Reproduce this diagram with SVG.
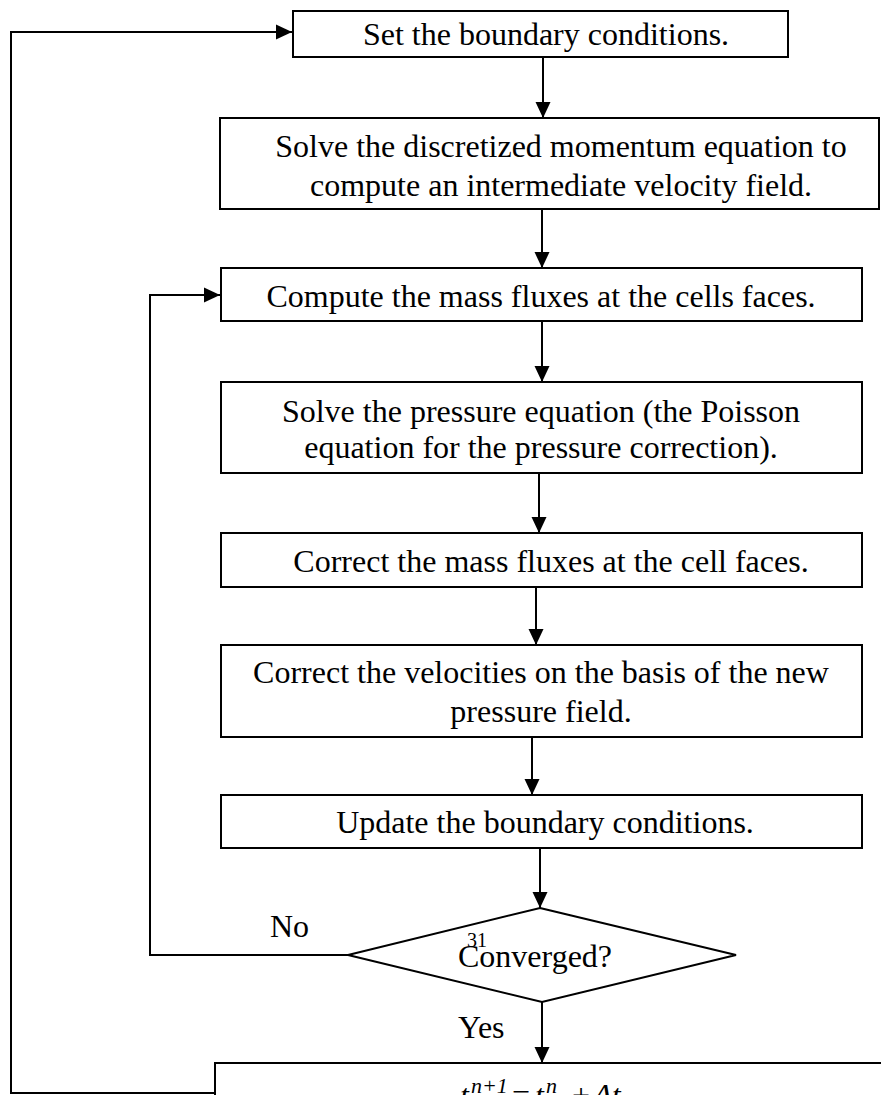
<svg xmlns="http://www.w3.org/2000/svg" width="881" height="1095" viewBox="0 0 881 1095">
<style>
  .box { fill: #fff; stroke: #000; stroke-width: 2; }
  .t { font-family: "Liberation Serif", "Times New Roman", serif; font-size: 32px; fill: #000; }
  .c { text-anchor: middle; }
  .i { font-style: italic; }
  .ln { fill: none; stroke: #000; stroke-width: 2; }
</style>
<defs>
  <marker id="ah" markerUnits="userSpaceOnUse" markerWidth="16" markerHeight="16" viewBox="0 0 16 16" refX="16" refY="8" orient="auto">
    <path d="M0,0.5 L16,8 L0,15.5 Z" fill="#000"/>
  </marker>
</defs>
<rect width="881" height="1095" fill="#fff"/>
<g id="connectors">
  <line class="ln" x1="543" y1="57" x2="543" y2="118" marker-end="url(#ah)"/>
  <line class="ln" x1="542" y1="209" x2="542" y2="268" marker-end="url(#ah)"/>
  <line class="ln" x1="542" y1="321" x2="542" y2="382" marker-end="url(#ah)"/>
  <line class="ln" x1="539" y1="473" x2="539" y2="533" marker-end="url(#ah)"/>
  <line class="ln" x1="536" y1="587" x2="536" y2="645" marker-end="url(#ah)"/>
  <line class="ln" x1="532" y1="737" x2="532" y2="795" marker-end="url(#ah)"/>
  <line class="ln" x1="540" y1="848" x2="540" y2="908" marker-end="url(#ah)"/>
  <polyline class="ln" points="348,955 150,955 150,295 220,295" marker-end="url(#ah)"/>
  <line class="ln" x1="542" y1="1002" x2="542" y2="1063" marker-end="url(#ah)"/>
  <polyline class="ln" points="215,1093 11,1093 11,32 292,32" marker-end="url(#ah)"/>
</g>
<g id="n1">
  <rect class="box" x="293" y="11" width="495" height="46"/>
  <text class="t c" x="546" y="45">Set the boundary conditions.</text>
</g>
<g id="n2">
  <rect class="box" x="220" y="118" width="659" height="91"/>
  <text class="t c" x="561" y="157">Solve the discretized momentum equation to</text>
  <text class="t c" x="561" y="196">compute an intermediate velocity field.</text>
</g>
<g id="n3">
  <rect class="box" x="221" y="268" width="641" height="53"/>
  <text class="t c" x="541" y="307">Compute the mass fluxes at the cells faces.</text>
</g>
<g id="n4">
  <rect class="box" x="221" y="382" width="641" height="91"/>
  <text class="t c" x="541" y="422">Solve the pressure equation (the Poisson</text>
  <text class="t c" x="541" y="458">equation for the pressure correction).</text>
</g>
<g id="n5">
  <rect class="box" x="221" y="533" width="641" height="54"/>
  <text class="t c" x="551" y="572">Correct the mass fluxes at the cell faces.</text>
</g>
<g id="n6">
  <rect class="box" x="221" y="645" width="641" height="92"/>
  <text class="t c" x="541" y="683">Correct the velocities on the basis of the new</text>
  <text class="t c" x="541" y="722">pressure field.</text>
</g>
<g id="n7">
  <rect class="box" x="221" y="795" width="641" height="53"/>
  <text class="t c" x="545" y="833">Update the boundary conditions.</text>
</g>
<g id="n8">
  <polygon class="box" points="540,908 736,955 542,1002 348,955"/>
  <text class="t" x="467" y="947" style="font-size:20px">31</text>
  <text class="t" x="458" y="967">Converged?</text>
</g>
<g id="labels">
  <text class="t" x="270" y="937">No</text>
  <text class="t" x="458" y="1038">Yes</text>
</g>
<g id="n9">
  <rect class="box" x="215" y="1063" width="700" height="80"/>
  <text class="t i" x="460" y="1106">t</text>
  <text class="t i" x="471" y="1093" style="font-size:22px">n+1</text>
  <text class="t" x="512" y="1106">=</text>
  <text class="t i" x="535" y="1106">t</text>
  <text class="t i" x="546" y="1093" style="font-size:22px">n</text>
  <text class="t" x="572" y="1106">+</text>
  <text class="t i" x="593" y="1106">Δt</text>
</g>
</svg>
